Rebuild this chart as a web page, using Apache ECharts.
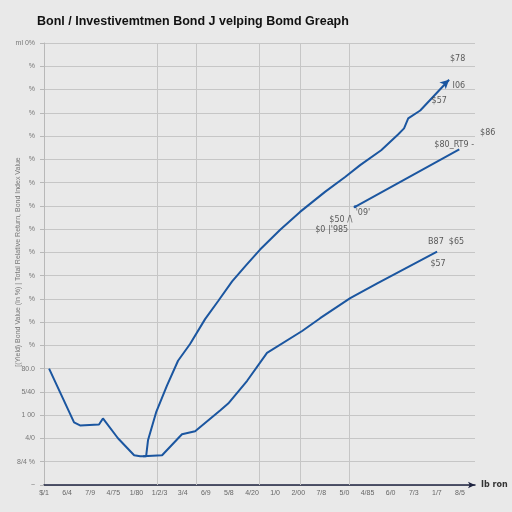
<!DOCTYPE html>
<html>
<head>
<meta charset="utf-8">
<script src="https://cdn.jsdelivr.net/npm/echarts@6/dist/echarts.min.js"></script>
<style>
html,body{margin:0;padding:0;background:#e9e9e9;}
#chart{width:512px;height:512px;}
</style>
</head>
<body>
<div id="chart"></div>
<script>
// ---- data ----
const titleText = "Bonl / Investivemtmen Bond J velping Bomd Greaph";
const xTickLabels = ["$/1","6/4","7/9","4/75","1/80","1/2/3","3/4","6/9","5/8","4/20","1/0","2/00","7/8","5/0","4/85","6/0","7/3","1/7","8/5"];
const yTickLabels = ["~","8/4 %","4/0","1 00","5/40","80.0","%","%","%","%","%","%","%","%","%","%","%","%","%","ml 0%"];
const xAxisName = "Ib ron";
const yAxisName = "[(Yield) Bond Value (In %) | Total Relative Return, Bond Index Value";

// upper series (dip then steep rise)
const upperX = [0.22,1.30,1.56,2.38,2.55,3.20,3.90,4.16,4.42,4.50,4.85,5.32,5.80,6.32,6.97,7.53,8.14,8.74,9.35,10.22,11.08,12.16,13.03,13.68,14.59,15.32,15.58,15.76,16.28,17.53];
const upperY = [5.00,2.69,2.56,2.60,2.86,2.01,1.28,1.24,1.24,1.92,3.12,4.27,5.34,6.06,7.13,7.90,8.75,9.44,10.12,10.97,11.74,12.60,13.24,13.75,14.39,15.07,15.33,15.76,16.10,17.42];
// lower series
const lowerX = [4.29,5.11,5.97,6.54,7.62,7.97,8.79,9.65,11.17,11.95,13.25,14.42,17.01];
const lowerY = [1.24,1.28,2.18,2.31,3.20,3.50,4.48,5.68,6.62,7.17,8.03,8.67,10.03];
// middle segment
const midX = [13.46,17.97];
const midY = [11.96,14.43];
// vertical grid guides (x values)
const gridX = [4.9,6.6,9.3,11.1,13.2];
// annotations: text, x, y
const annText = ["$78","I06","$57","$86","$80_RT9 ‑","'09'","$50 /\\","$0 |'985","B87  $65","$57"];
const annX = [17.90,17.95,17.10,19.20,17.75,13.80,12.85,12.45,17.40,17.05];
const annY = [18.30,17.15,16.50,15.15,14.62,11.70,11.38,10.98,10.45,9.50];

// ---- build ----
const zip = (xs, ys) => xs.map((x, i) => [x, ys[i]]);
const blue = "#1b56a0";
const chart = echarts.init(document.getElementById('chart'), null, {renderer: 'canvas'});

const upperData = zip(upperX, upperY).map((p, i, a) => i === a.length - 1
  ? {value: p, symbol: 'arrow', symbolSize: [7, 9], symbolRotate: -47, itemStyle: {color: blue}}
  : {value: p});

const option = {
  backgroundColor: '#e9e9e9',
  animation: false,
  title: {
    text: titleText, left: 32, top: 10,
    textStyle: {fontFamily: 'Liberation Sans', fontWeight: 'bold', fontSize: 12.5, color: '#111'}
  },
  graphic: [{
    type: 'text', x: 18, y: 262, rotation: Math.PI / 2,
    style: {text: yAxisName, fontSize: 7, fill: '#777', align: 'center', verticalAlign: 'middle'}
  }],
  grid: {left: 44, right: 37, top: 43, bottom: 27, containLabel: false, outerBoundsMode: 'none'},
  xAxis: {
    type: 'value', min: 0, max: 18.65, interval: 1,
    name: xAxisName, nameLocation: 'end', nameGap: 6,
    nameTextStyle: {fontSize: 8, color: '#333', fontWeight: 'bold', fontFamily: 'DejaVu Sans'},
    axisLine: {show: true, symbol: ['none', 'arrow'], symbolSize: [5, 7], lineStyle: {color: '#1e2340', width: 1.5}},
    axisTick: {show: false},
    splitLine: {show: false},
    axisLabel: {
      fontSize: 7, color: '#666', margin: 5, showMaxLabel: false,
      formatter: v => (Number.isInteger(v) && xTickLabels[v] !== undefined) ? xTickLabels[v] : ''
    }
  },
  yAxis: {
    type: 'value', min: 0, max: 19, interval: 1,
    axisLine: {show: true, lineStyle: {color: '#b8b8b8'}},
    axisTick: {show: true, length: 4, lineStyle: {color: '#b8b8b8'}},
    splitLine: {show: true, lineStyle: {color: '#c6c6c6', width: 1}},
    axisLabel: {
      fontSize: 7, color: '#777', margin: 9,
      formatter: v => yTickLabels[v] !== undefined ? yTickLabels[v] : ''
    }
  },
  series: [
    {
      type: 'line', data: upperData, showSymbol: true, symbol: 'none',
      lineStyle: {color: blue, width: 2}, itemStyle: {color: blue}, z: 5,
      markLine: {
        silent: true, symbol: 'none', label: {show: false},
        lineStyle: {color: '#c6c6c6', type: 'solid', width: 1},
        data: gridX.map(v => ({xAxis: v}))
      }
    },
    {
      type: 'line', data: zip(lowerX, lowerY), symbol: 'none',
      lineStyle: {color: blue, width: 2}, z: 5
    },
    {
      type: 'line', data: zip(midX, midY).map((p, i) => i === 0
        ? {value: p, symbol: 'circle', symbolSize: 3}
        : {value: p, symbol: 'none'}),
      lineStyle: {color: blue, width: 2}, itemStyle: {color: blue}, z: 5
    },
    {
      type: 'scatter', clip: false, symbolSize: 0,
      data: annText.map((t, i) => ({value: [annX[i], annY[i]], name: t})),
      label: {
        show: true, position: 'inside', formatter: p => p.name,
        fontSize: 8, color: '#333', fontFamily: 'DejaVu Sans'
      },
      z: 6
    }
  ]
};
chart.setOption(option);
</script>
</body>
</html>
